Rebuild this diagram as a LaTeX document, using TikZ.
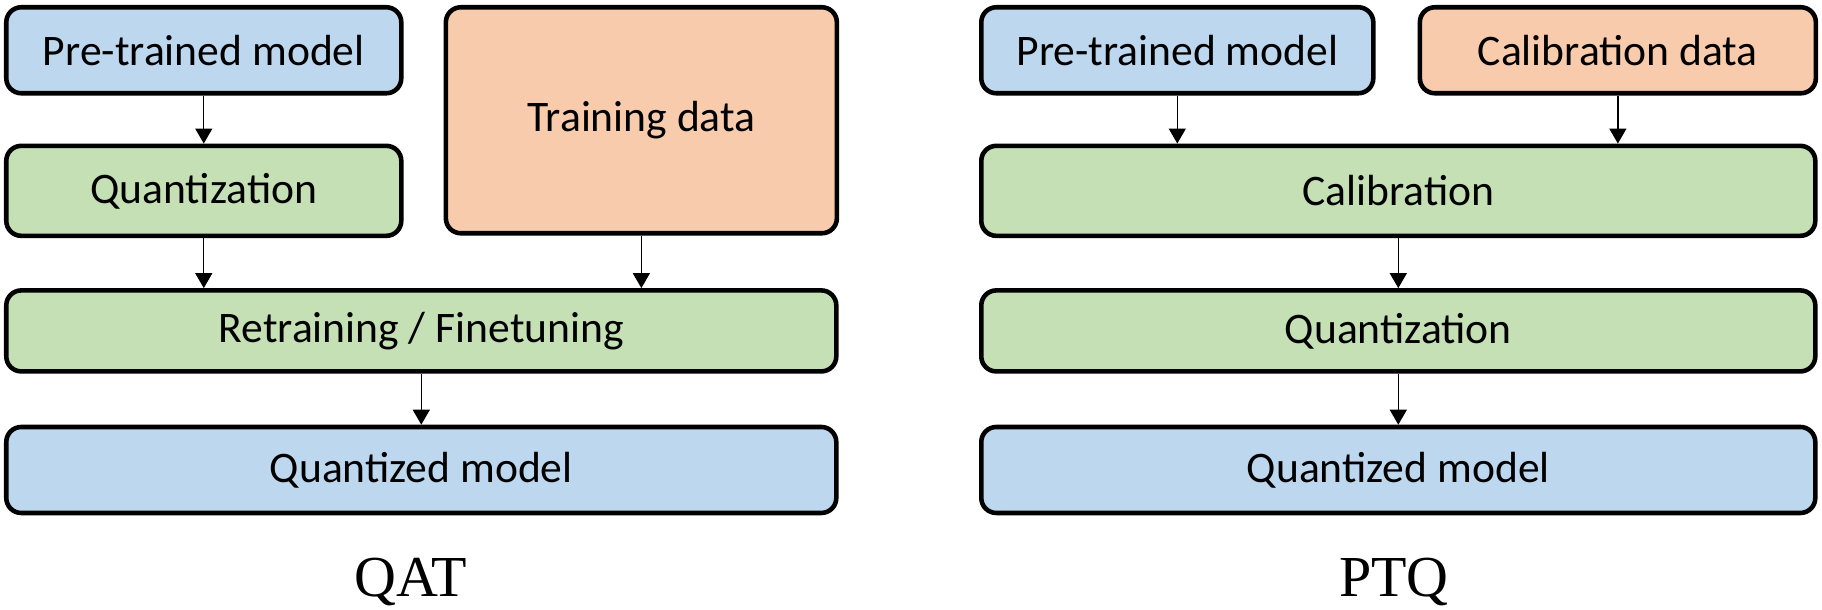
\documentclass[tikz,border=0pt]{standalone}
\usepackage{fontspec}
\setmainfont{Liberation Serif}
\setsansfont{Carlito}
\usepackage{xcolor}
\usetikzlibrary{arrows.meta,positioning}

\definecolor{modelblue}{HTML}{BDD7EE}
\definecolor{stepgreen}{HTML}{C5E0B4}
\definecolor{dataorange}{HTML}{F8CBAD}

\begin{document}
\begin{tikzpicture}[
  blk/.style={draw, line width=1.3pt, rounded corners=0.15cm, inner sep=0pt,
    font=\sffamily\fontsize{12.4}{14}\selectfont},
  model/.style={blk, fill=modelblue},
  stage/.style={blk, fill=stepgreen},
  data/.style={blk, fill=dataorange},
  title/.style={font=\fontsize{16.5}{18}\selectfont, anchor=base},
  arr/.style={-{Triangle[length=0.15cm, width=0.17cm]}, line width=0.4pt}
]
  \useasboundingbox (0,0) rectangle (18.22,6.10);

  % QAT
  \node[model, anchor=north west, minimum width=3.95cm, minimum height=0.86cm]
    (qpre) at (0.04,6.05) {Pre-trained model};
  \node[stage, below=0.48cm of qpre, minimum width=3.95cm, minimum height=0.90cm]
    (qquant) {Quantization};
  \node[data, below right=0cm and 0.40cm of qpre.north east,
    minimum width=3.91cm, minimum height=2.26cm] (qdata) {Training data};
  \node[stage, below right=0.50cm and 0cm of qquant.south west,
    minimum width=8.30cm, minimum height=0.81cm] (qtrain) {Retraining / Finetuning};
  \node[model, below=0.51cm of qtrain, minimum width=8.30cm, minimum height=0.86cm]
    (qout) {Quantized model};
  \node[title] (qat) at (4.11,0.13) {QAT};

  \draw[arr] (qpre) -- (qquant);
  \draw[arr] (qquant.south) -- (qquant.south |- qtrain.north);
  \draw[arr] (qdata.south) -- (qdata.south |- qtrain.north);
  \draw[arr] (qtrain) -- (qout);

  % PTQ
  \node[model, anchor=north west, minimum width=3.92cm, minimum height=0.86cm]
    (ppre) at (9.79,6.05) {Pre-trained model};
  \node[data, below right=0cm and 0.42cm of ppre.north east,
    minimum width=3.96cm, minimum height=0.86cm] (pdata) {Calibration data};
  \node[stage, below right=0.48cm and 0cm of ppre.south west,
    minimum width=8.34cm, minimum height=0.90cm] (pcal) {Calibration};
  \node[stage, below=0.50cm of pcal, minimum width=8.34cm, minimum height=0.81cm]
    (pquant) {Quantization};
  \node[model, below=0.51cm of pquant, minimum width=8.34cm, minimum height=0.86cm]
    (pout) {Quantized model};
  \node[title] (ptq) at (13.94,0.13) {PTQ};

  \draw[arr] (ppre.south) -- (ppre.south |- pcal.north);
  \draw[arr] (pdata.south) -- (pdata.south |- pcal.north);
  \draw[arr] (pcal) -- (pquant);
  \draw[arr] (pquant) -- (pout);
\end{tikzpicture}
\end{document}
